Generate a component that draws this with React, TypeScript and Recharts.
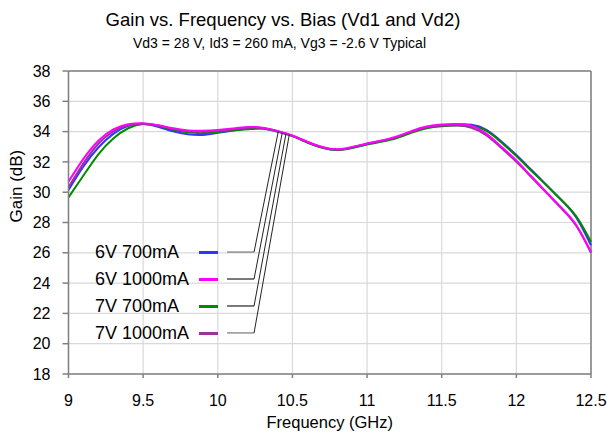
import React from 'react';
import {
  LineChart,
  Line,
  XAxis,
  YAxis,
  CartesianGrid,
  ReferenceLine,
  Legend,
} from 'recharts';

// frequency points (GHz)
const freq = [
  9.0, 9.1, 9.2, 9.3, 9.4, 9.5, 9.6, 9.7, 9.8, 9.9,
  10.0, 10.1, 10.2, 10.3, 10.4, 10.5, 10.6, 10.7, 10.8, 10.9,
  11.0, 11.1, 11.2, 11.3, 11.4, 11.5, 11.6, 11.7, 11.8, 11.9,
  12.0, 12.1, 12.2, 12.3, 12.4, 12.5,
];

// gain (dB) per bias point
const gain6V700 = [
  30.15, 31.7, 32.95, 33.85, 34.38, 34.5, 34.32, 34.02, 33.82, 33.78,
  33.92, 34.08, 34.2, 34.2, 34.0, 33.72, 33.3, 32.95, 32.8, 32.95,
  33.18, 33.38, 33.62, 33.98, 34.28, 34.42, 34.47, 34.45, 34.12, 33.35,
  32.45, 31.48, 30.5, 29.5, 28.35, 26.5,
];
const gain6V1000 = [
  30.7, 32.2, 33.4, 34.15, 34.48, 34.55, 34.42, 34.22, 34.08, 34.05,
  34.1, 34.2, 34.3, 34.26, 34.05, 33.74, 33.33, 32.98, 32.83, 32.98,
  33.22, 33.42, 33.68, 34.04, 34.33, 34.47, 34.5, 34.38, 33.85, 33.0,
  32.1, 31.05, 30.02, 29.0, 27.85, 26.05,
];
const gain7V700 = [
  29.66, 31.1, 32.5, 33.55, 34.22, 34.5, 34.38, 34.12, 33.95, 33.9,
  33.98, 34.08, 34.15, 34.2, 34.0, 33.7, 33.28, 32.93, 32.78, 32.92,
  33.14, 33.34, 33.58, 33.93, 34.22, 34.35, 34.4, 34.35, 34.05, 33.28,
  32.38, 31.42, 30.47, 29.5, 28.42, 26.73,
];
const gain7V1000 = [
  30.32, 31.9, 33.2, 34.02, 34.42, 34.52, 34.4, 34.18, 34.03, 34.0,
  34.05, 34.15, 34.25, 34.24, 34.03, 33.72, 33.3, 32.96, 32.81, 32.96,
  33.2, 33.4, 33.65, 34.0, 34.28, 34.4, 34.42, 34.25, 33.75, 32.92,
  32.0, 31.0, 29.98, 28.95, 27.8, 26.0,
];

const seriesNames = ['6V 700mA', '6V 1000mA', '7V 700mA', '7V 1000mA'];
const xTicks = [9, 9.5, 10, 10.5, 11, 11.5, 12, 12.5];
const yTicks = [18, 20, 22, 24, 26, 28, 30, 32, 34, 36, 38];

// callout leaders: legend row level -> point on the curves (data units)
const leaderLevels = [26.05, 24.27, 22.49, 20.71];
const leaderTipFreq = [10.405, 10.432, 10.457, 10.479];
const leaderTipGain = [34.0, 33.93, 33.87, 33.8];
const leaderStartFreq = 10.062;
const leaderBendFreq = 10.243;

const data = freq.map((f, i) => ({
  f,
  g6v700: gain6V700[i],
  g6v1000: gain6V1000[i],
  g7v700: gain7V700[i],
  g7v1000: gain7V1000[i],
}));

const series = [
  { key: 'g6v700', name: seriesNames[0], color: '#3333ff' },
  { key: 'g7v700', name: seriesNames[2], color: '#008a00' },
  { key: 'g7v1000', name: seriesNames[3], color: '#993399' },
  { key: 'g6v1000', name: seriesNames[1], color: '#ff00ff' },
];

const font = '"Liberation Sans", Arial, sans-serif';
const axisColor = '#808080';

const renderLegend = (props: any) => {
  const payload = props.payload || [];
  return (
    <div style={{ fontFamily: font, fontSize: 18, color: '#000' }}>
      {seriesNames.map((name) => {
        const entry = payload.find((p: any) => p.value === name);
        return (
          <div key={name} style={{ display: 'flex', alignItems: 'center', height: 27 }}>
            <span style={{ width: 104, whiteSpace: 'nowrap' }}>{name}</span>
            <span style={{ width: 19, height: 3, background: entry ? entry.color : '#000' }} />
          </div>
        );
      })}
    </div>
  );
};

export default function App() {
  return (
    <div style={{ position: 'absolute', left: 0, top: 0, width: 607, height: 438, background: '#fff' }}>
      <div
        style={{
          position: 'absolute', left: 0, width: 566, top: 10, textAlign: 'center',
          fontFamily: font, fontSize: 18.5, lineHeight: '20px', color: '#000',
        }}
      >
        Gain vs. Frequency vs. Bias (Vd1 and Vd2)
      </div>
      <div
        style={{
          position: 'absolute', left: 0, width: 559, top: 35, textAlign: 'center',
          fontFamily: font, fontSize: 14, lineHeight: '16px', color: '#000',
        }}
      >
        Vd3 = 28 V, Id3 = 260 mA, Vg3 = -2.6 V Typical
      </div>
      <LineChart
        width={607}
        height={438}
        data={data}
        margin={{ top: 71, right: 16, bottom: 34, left: 8 }}
        style={{ fontFamily: font }}
      >
        <CartesianGrid stroke="#d9d9d9" strokeWidth={1.2} />
        <XAxis
          dataKey="f"
          type="number"
          domain={[9, 12.5]}
          ticks={xTicks}
          height={30}
          tickSize={4}
          tickMargin={12}
          stroke={axisColor}
          strokeWidth={1.5}
          tick={{ fill: '#000', fontSize: 16, dy: 5 }}
          label={{ value: 'Frequency (GHz)', position: 'bottom', offset: 12, fill: '#000', fontSize: 16.5 }}
        />
        <YAxis
          type="number"
          domain={[18, 38]}
          ticks={yTicks}
          width={60.5}
          tickSize={6}
          tickMargin={12}
          stroke={axisColor}
          strokeWidth={1.5}
          tick={{ fill: '#000', fontSize: 16 }}
          label={{ value: 'Gain (dB)', angle: -90, position: 'insideLeft', dx: 3, fill: '#000', fontSize: 17 }}
        />
        <ReferenceLine y={38} stroke={axisColor} strokeWidth={1.5} />
        <ReferenceLine x={12.5} stroke={axisColor} strokeWidth={1.5} />
        {series.map((s) => (
          <Line
            key={s.key}
            type="natural"
            dataKey={s.key}
            name={s.name}
            stroke={s.color}
            strokeWidth={2}
            dot={false}
            isAnimationActive={false}
          />
        ))}
        {leaderLevels.map((lvl, i) => (
          <ReferenceLine
            key={'h' + i}
            segment={[
              { x: leaderStartFreq, y: lvl },
              { x: leaderBendFreq, y: lvl },
            ]}
            stroke={i === 0 || i === 3 ? '#777777' : '#222222'}
            strokeWidth={1.2}
          />
        ))}
        {leaderLevels.map((lvl, i) => (
          <ReferenceLine
            key={'d' + i}
            segment={[
              { x: leaderBendFreq, y: lvl },
              { x: leaderTipFreq[i], y: leaderTipGain[i] },
            ]}
            stroke="#222222"
            strokeWidth={1}
          />
        ))}
        <Legend
          layout="vertical"
          align="center"
          verticalAlign="middle"
          content={renderLegend}
          wrapperStyle={{ left: 95, top: 238.5, width: 130 }}
        />
      </LineChart>
    </div>
  );
}
